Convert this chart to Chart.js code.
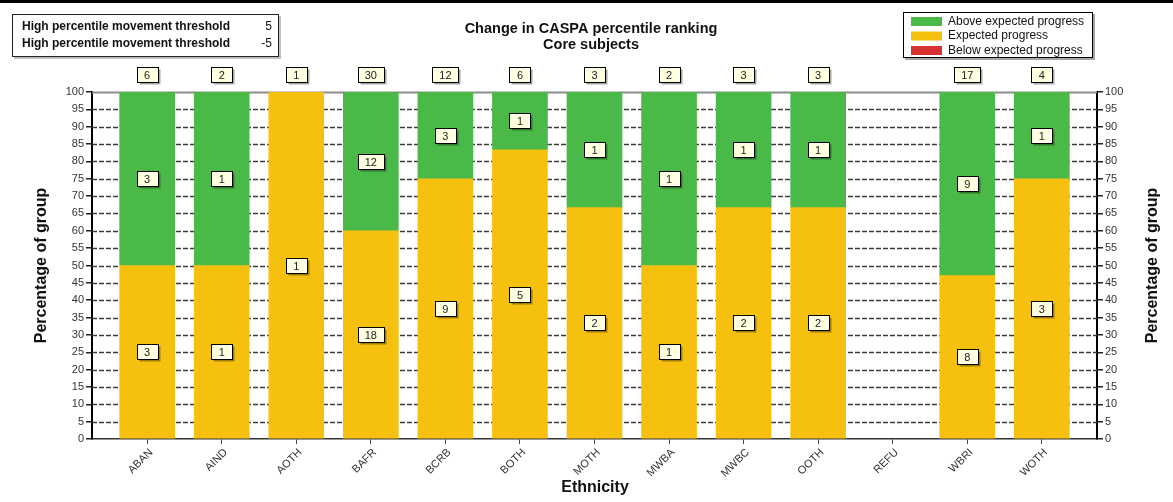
<!DOCTYPE html>
<html>
<head>
<meta charset="utf-8">
<script src="https://cdn.jsdelivr.net/npm/chart.js@4"></script>
<style>
  html, body { margin: 0; padding: 0; background: #fff; }
  #wrap { position: relative; width: 1173px; height: 502px; }
  canvas { display: block; }
</style>
</head>
<body>
<div id="wrap"><canvas id="c" width="1173" height="502"></canvas></div>
<script>
// ---- data ----
const categories = ['ABAN','AIND','AOTH','BAFR','BCRB','BOTH','MOTH','MWBA','MWBC','OOTH','REFU','WBRI','WOTH'];
const totalCounts    = [6, 2, 1, 30, 12, 6, 3, 2, 3, 3, null, 17, 4];
const aboveCounts    = [3, 1, 0, 12, 3, 1, 1, 1, 1, 1, null, 9, 1];
const expectedCounts = [3, 1, 1, 18, 9, 5, 2, 1, 2, 2, null, 8, 3];
const belowCounts    = [0, 0, 0, 0, 0, 0, 0, 0, 0, 0, null, 0, 0];
const abovePct    = [50, 50, 0, 40, 25, 16.7, 33.3, 50, 33.3, 33.3, null, 52.9, 25];
const expectedPct = [50, 50, 100, 60, 75, 83.3, 66.7, 50, 66.7, 66.7, null, 47.1, 75];
const belowPct    = [0, 0, 0, 0, 0, 0, 0, 0, 0, 0, null, 0, 0];
const seriesNames = ['Above expected progress', 'Expected progress', 'Below expected progress'];
const thresholdLabels = ['High percentile movement threshold', 'High percentile movement threshold'];
const thresholdValues = ['5', '-5'];
const titleLines = ['Change in CASPA percentile ranking', 'Core subjects'];
const yAxisTitle = 'Percentage of group';
const xAxisTitle = 'Ethnicity';
const yMin = 0, yMax = 100, yStep = 5;

const COL_GREEN = '#4ab948';
const COL_YELLOW = '#f6c10e';
const COL_RED = '#d83131';
const FONT = '"Liberation Sans", Arial, sans-serif';
Chart.defaults.font.family = FONT;

const toXY = arr => arr.map((v, i) => ({ x: i, y: (v === 0 ? null : v) }));

function drawBox(ctx, text, cx, cy) {
  ctx.save();
  ctx.font = '11px ' + FONT;
  const tw = ctx.measureText(text).width;
  const w = Math.max(21, Math.round(tw + 14));
  const h = 15;
  const x = Math.round(cx - w / 2) + 0.5, y = Math.round(cy - h / 2) + 0.5;
  ctx.fillStyle = 'rgba(0,0,0,0.35)';
  ctx.fillRect(x + 2, y + 2, w, h);
  ctx.fillStyle = '#ffffe1';
  ctx.fillRect(x, y, w, h);
  ctx.strokeStyle = '#000';
  ctx.lineWidth = 1;
  ctx.strokeRect(x, y, w, h);
  ctx.fillStyle = '#222';
  ctx.textAlign = 'center';
  ctx.textBaseline = 'middle';
  ctx.fillText(text, cx, y + h / 2 + 0.5);
  ctx.restore();
}

const gridPlugin = {
  id: 'dashedGrid',
  beforeDatasetsDraw(chart) {
    const { ctx, chartArea } = chart;
    const ys = chart.scales.y;
    ctx.save();
    ys.ticks.forEach(t => {
      if (t.value === yMin) return;
      const py = Math.round(ys.getPixelForValue(t.value)) + 0.5;
      ctx.beginPath();
      if (t.value === yMax) {
        ctx.setLineDash([]);
        ctx.strokeStyle = '#8c8c8c';
        ctx.lineWidth = 2;
      } else {
        ctx.setLineDash([5, 2]);
        ctx.strokeStyle = '#3c3c3c';
        ctx.lineWidth = 1.5;
      }
      ctx.moveTo(chartArea.left, py);
      ctx.lineTo(chartArea.right, py);
      ctx.stroke();
    });
    ctx.restore();
  }
};

const decorPlugin = {
  id: 'decor',
  afterDraw(chart) {
    const { ctx, chartArea } = chart;
    const W = chart.width;
    ctx.save();
    // top rule
    ctx.fillStyle = '#000';
    ctx.fillRect(0, 0, W, 3);

    // title
    ctx.fillStyle = '#111';
    ctx.font = 'bold 14.5px ' + FONT;
    ctx.textAlign = 'center';
    ctx.textBaseline = 'middle';
    ctx.fillText(titleLines[0], 591, 29);
    ctx.fillText(titleLines[1], 591, 45);

    // threshold box
    ctx.fillStyle = 'rgba(0,0,0,0.25)';
    ctx.fillRect(14, 16, 267, 43);
    ctx.fillStyle = '#fff';
    ctx.fillRect(12.5, 14.5, 266, 42);
    ctx.strokeStyle = '#222';
    ctx.lineWidth = 1;
    ctx.strokeRect(12.5, 14.5, 266, 42);
    ctx.font = 'bold 12px ' + FONT;
    ctx.fillStyle = '#111';
    ctx.textAlign = 'left';
    ctx.fillText(thresholdLabels[0], 22, 27);
    ctx.fillText(thresholdLabels[1], 22, 44);
    ctx.font = '12px ' + FONT;
    ctx.textAlign = 'right';
    ctx.fillText(thresholdValues[0], 272, 27);
    ctx.fillText(thresholdValues[1], 272, 44);

    // legend (drawn from datasets)
    ctx.fillStyle = 'rgba(0,0,0,0.35)';
    ctx.fillRect(905, 14, 190, 46);
    ctx.fillStyle = '#fff';
    ctx.fillRect(903.5, 12.5, 189, 45);
    ctx.strokeStyle = '#000';
    ctx.strokeRect(903.5, 12.5, 189, 45);
    const order = [2, 1, 0];
    order.forEach((di, k) => {
      const ds = chart.data.datasets[di];
      const cy = 21 + k * 14.5;
      ctx.fillStyle = ds.backgroundColor;
      ctx.fillRect(911, cy - 4, 31, 9);
      ctx.fillStyle = '#111';
      ctx.font = '12px ' + FONT;
      ctx.textAlign = 'left';
      ctx.textBaseline = 'middle';
      ctx.fillText(ds.label, 948, cy + 0.5);
    });

    // axis titles
    ctx.fillStyle = '#111';
    ctx.font = 'bold 16px ' + FONT;
    ctx.textAlign = 'center';
    ctx.textBaseline = 'middle';
    const midY = (chartArea.top + chartArea.bottom) / 2;
    [42, 1153].forEach(x => {
      ctx.save();
      ctx.translate(x, midY);
      ctx.rotate(-Math.PI / 2);
      ctx.fillText(yAxisTitle, 0, 0);
      ctx.restore();
    });
    ctx.fillText(xAxisTitle, 595, 488);

    // segment value boxes
    const segCounts = [belowCounts, expectedCounts, aboveCounts];
    [0, 1, 2].forEach(di => {
      const meta = chart.getDatasetMeta(di);
      meta.data.forEach((bar, i) => {
        const c = segCounts[di][i];
        if (!c) return;
        drawBox(ctx, String(c), bar.x, (bar.y + bar.base) / 2);
      });
    });
    // total boxes
    const xs = chart.scales.x;
    totalCounts.forEach((t, i) => {
      if (t == null) return;
      drawBox(ctx, String(t), xs.getPixelForValue(i), chartArea.top - 18);
    });
    ctx.restore();
  }
};

new Chart(document.getElementById('c'), {
  type: 'bar',
  data: {
    datasets: [
      { label: seriesNames[2], data: toXY(belowPct), backgroundColor: COL_RED },
      { label: seriesNames[1], data: toXY(expectedPct), backgroundColor: COL_YELLOW },
      { label: seriesNames[0], data: toXY(abovePct), backgroundColor: COL_GREEN }
    ]
  },
  options: {
    responsive: false,
    animation: false,
    devicePixelRatio: 1,
    layout: { padding: { top: 92, left: 0, right: 0, bottom: 0 } },
    datasets: { bar: { barThickness: 55, borderWidth: 0 } },
    plugins: { legend: { display: false }, tooltip: { enabled: false }, title: { display: false } },
    scales: {
      x: {
        type: 'linear',
        stacked: true,
        offset: false,
        min: -0.74,
        max: categories.length - 1 + 0.74,
        afterBuildTicks: s => { s.ticks = categories.map((_, i) => ({ value: i })); },
        afterFit: s => { s.height = 63; },
        ticks: {
          autoSkip: false,
          maxRotation: 45,
          minRotation: 45,
          padding: 2,
          labelOffset: 4,
          color: '#333',
          font: { size: 11 },
          callback: v => categories[v] ?? ''
        },
        grid: { offset: false, drawOnChartArea: false, drawTicks: true, tickLength: 5, color: '#444', lineWidth: 1 },
        border: { display: true, color: '#333', width: 1.5 }
      },
      y: {
        type: 'linear',
        position: 'left',
        stacked: true,
        min: yMin, max: yMax,
        afterFit: s => { s.width = 92; },
        ticks: { stepSize: yStep, padding: 2, color: '#333', font: { size: 11 } },
        grid: { drawOnChartArea: false, drawTicks: true, tickLength: 6, color: '#222', lineWidth: 1.5 },
        border: { display: true, color: '#000', width: 2 }
      },
      y2: {
        type: 'linear',
        position: 'right',
        min: yMin, max: yMax,
        afterFit: s => { s.width = 76; },
        ticks: { stepSize: yStep, padding: 2, color: '#333', font: { size: 11 } },
        grid: { drawOnChartArea: false, drawTicks: true, tickLength: 6, color: '#222', lineWidth: 1.5 },
        border: { display: true, color: '#000', width: 2 }
      }
    }
  },
  plugins: [gridPlugin, decorPlugin]
});
</script>
</body>
</html>
